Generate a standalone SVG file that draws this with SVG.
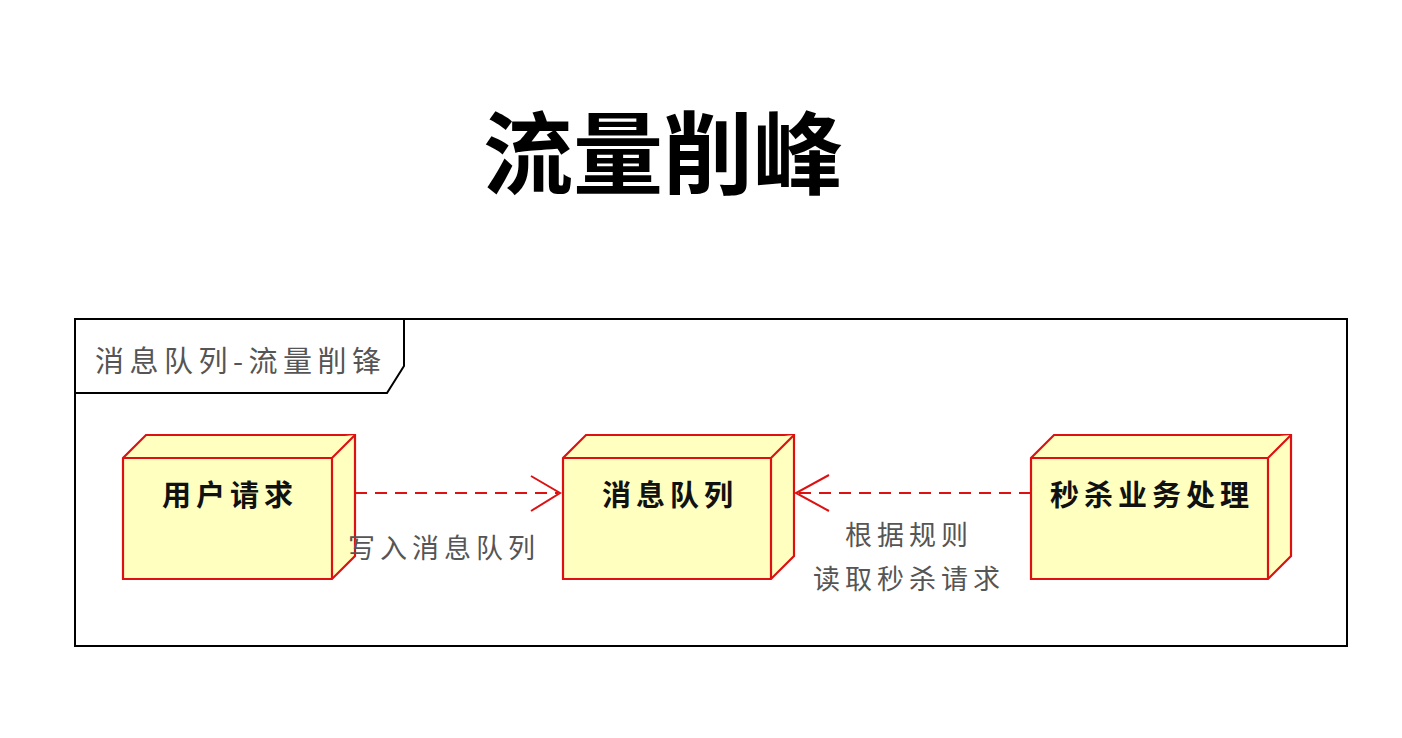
<svg xmlns="http://www.w3.org/2000/svg" width="1402" height="738" viewBox="0 0 1402 738">
<style>
.title{font-family:"Noto Sans CJK SC","Noto Sans",sans-serif;font-weight:bold;font-size:90px;fill:#000}
.frame{fill:none;stroke:#000;stroke-width:2}
.tab{font-family:"Noto Sans CJK SC",sans-serif;font-size:29px;fill:#555;letter-spacing:5.5px}
.box{fill:#FFFFC0;stroke:#DD1111;stroke-width:2.2;stroke-linejoin:miter}
.nl{font-family:"Noto Sans CJK SC",sans-serif;font-weight:bold;font-size:29px;fill:#111;text-anchor:middle;letter-spacing:5px}
.edge{fill:none;stroke:#DD1111;stroke-width:2;stroke-dasharray:12 8}
.head{fill:none;stroke:#DD1111;stroke-width:2}
.el{font-family:"Noto Sans CJK SC",sans-serif;font-size:27px;fill:#555;text-anchor:middle;letter-spacing:5px}
</style>
<rect width="1402" height="738" fill="#fff"/>
<text class="title" x="663" y="187" text-anchor="middle">流量削峰</text>
<g id="frame">
<rect class="frame" x="75" y="319" width="1272" height="327"/>
<path class="frame" d="M75 393 H387 L404 366 V319"/>
<text class="tab" x="95" y="372">消息队列-流量削锋</text>
</g>
<g id="node-user">
<path class="box" d="M123 458 L146 435 H355 V556 L332 579 H123 Z"/>
<path class="box" d="M123 458 H332 L355 435 M332 458 V579"/>
<text class="nl" x="230" y="506">用户请求</text>
</g>
<g id="node-mq">
<path class="box" d="M563 458 L586 435 H794 V556 L771 579 H563 Z"/>
<path class="box" d="M563 458 H771 L794 435 M771 458 V579"/>
<text class="nl" x="670" y="506">消息队列</text>
</g>
<g id="node-seckill">
<path class="box" d="M1031 458 L1054 435 H1291 V556 L1268 579 H1031 Z"/>
<path class="box" d="M1031 458 H1268 L1291 435 M1268 458 V579"/>
<text class="nl" x="1152" y="506">秒杀业务处理</text>
</g>
<g id="connectors">
<line class="edge" x1="355" y1="493" x2="558" y2="493"/>
<path class="head" d="M531 476 L560 493 L531 511"/>
<line class="edge" x1="1031" y1="493" x2="798" y2="493"/>
<path class="head" d="M829 475 L796 493 L829 511"/>
<text class="el" x="444" y="558">写入消息队列</text>
<text class="el" x="909" y="545">根据规则</text>
<text class="el" x="909" y="589">读取秒杀请求</text>
</g>
</svg>
